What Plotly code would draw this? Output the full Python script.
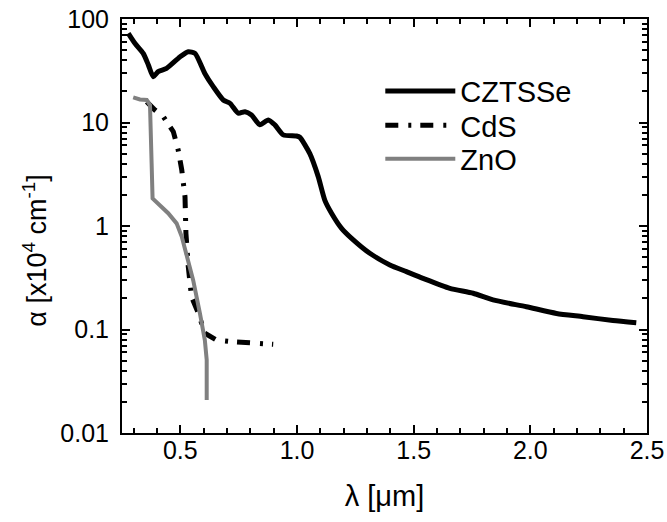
import plotly.graph_objects as go

# Absorption coefficient spectra (alpha in units of 1e4 cm^-1, wavelength in um)
cztsse_wl = [0.277, 0.306, 0.341, 0.363, 0.384, 0.405, 0.441, 0.498, 0.534, 0.563,
             0.605, 0.641, 0.684, 0.713, 0.748, 0.777, 0.805, 0.841, 0.877, 0.905,
             0.941, 0.998, 1.012, 1.055, 1.091, 1.119, 1.148, 1.191, 1.234, 1.312,
             1.398, 1.469, 1.540, 1.655, 1.755, 1.840, 1.983, 2.112, 2.226, 2.354, 2.454]
cztsse_alpha = [72.7, 58.0, 46.5, 36.0, 27.7, 31.0, 33.4, 43.0, 48.3, 46.5,
                29.8, 22.2, 16.5, 15.3, 12.3, 12.7, 11.8, 9.5, 10.6, 9.5,
                7.6, 7.4, 7.2, 5.0, 3.0, 1.78, 1.33, 0.95, 0.76, 0.545,
                0.42, 0.362, 0.312, 0.25, 0.224, 0.193, 0.166, 0.143, 0.133, 0.122, 0.116]

cds_wl = [0.356, 0.391, 0.427, 0.470, 0.491, 0.506, 0.520, 0.524, 0.534, 0.548,
          0.577, 0.605, 0.655, 0.727, 0.898]
cds_alpha = [15.9, 13.2, 11.4, 8.15, 5.4, 3.5, 1.92, 0.85, 0.405, 0.207,
             0.144, 0.092, 0.079, 0.076, 0.072]

zno_wl = [0.298, 0.327, 0.356, 0.370, 0.377, 0.381, 0.448, 0.484, 0.506, 0.527,
          0.555, 0.584, 0.605, 0.613, 0.615, 0.613]
zno_alpha = [17.5, 16.7, 16.5, 14.7, 4.0, 1.85, 1.33, 1.06, 0.79, 0.505,
             0.30, 0.143, 0.079, 0.051, 0.0325, 0.0208]

x_ticks = [0.5, 1.0, 1.5, 2.0, 2.5]
x_tick_labels = ["0.5", "1.0", "1.5", "2.0", "2.5"]
y_ticks = [0.01, 0.1, 1, 10, 100]
y_tick_labels = ["0.01", "0.1", "1", "10", "100"]

FONT = "Liberation Sans, Arial, sans-serif"

fig = go.Figure()
fig.add_trace(go.Scatter(x=cztsse_wl, y=cztsse_alpha, mode="lines", name="CZTSSe", legend="legend",
                         line=dict(color="black", width=5, shape="spline", smoothing=0.6)))
fig.add_trace(go.Scatter(x=cds_wl, y=cds_alpha, mode="lines", name="CdS", legend="legend2",
                         line=dict(color="black", width=5, dash="13px,10px,3px,9px")))
fig.add_trace(go.Scatter(x=zno_wl, y=zno_alpha, mode="lines", name="ZnO", legend="legend3",
                         line=dict(color="#808080", width=4)))

# minor tick positions: 2..9 within each decade, and every 0.1 um on x
y_minor = [m * 10 ** d for d in range(-2, 2) for m in range(2, 10)]
x_minor = [round(0.3 + 0.1 * i, 2) for i in range(22)]

axis_common = dict(showline=True, linecolor="black", linewidth=2, mirror="allticks",
                   ticks="inside", tickcolor="black", tickwidth=1.5, ticklen=8,
                   showgrid=False, zeroline=False, automargin=False,
                   tickfont=dict(family=FONT, size=25, color="black"))

fig.update_xaxes(range=[0.25, 2.5], tickvals=x_ticks, ticktext=x_tick_labels,
                 minor=dict(tickvals=x_minor, ticks="inside", ticklen=5, tickcolor="black", tickwidth=1.5),
                 title=dict(text="λ [μm]", font=dict(family=FONT, size=29, color="black"), standoff=23),
                 ticklabelstandoff=-6, **axis_common)
fig.update_yaxes(type="log", range=[-2, 2], tickvals=y_ticks, ticktext=y_tick_labels,
                 minor=dict(tickvals=y_minor, ticks="inside", ticklen=5, tickcolor="black", tickwidth=1.5),
                 ticklabelstandoff=6, **axis_common)

# vertical axis label, placed as a rotated annotation
fig.add_annotation(text="α [x10<sup>4</sup> cm<sup>-1</sup>]", textangle=-90,
                   xref="paper", yref="paper", x=-0.166, y=0.44,
                   xanchor="center", yanchor="middle", showarrow=False,
                   font=dict(family=FONT, size=27, color="black"))

legend_style = dict(xanchor="left", yanchor="middle", bgcolor="rgba(0,0,0,0)", borderwidth=0,
                    font=dict(family=FONT, size=29, color="black"), itemwidth=70)

fig.update_layout(
    width=667, height=522,
    margin=dict(l=122, r=20, t=19, b=89),
    paper_bgcolor="white", plot_bgcolor="white",
    showlegend=True,
    legend=dict(x=0.492, y=0.826, **legend_style),
    legend2=dict(x=0.492, y=0.743, **legend_style),
    legend3=dict(x=0.492, y=0.662, **legend_style),
)

fig.write_html("out.html")
